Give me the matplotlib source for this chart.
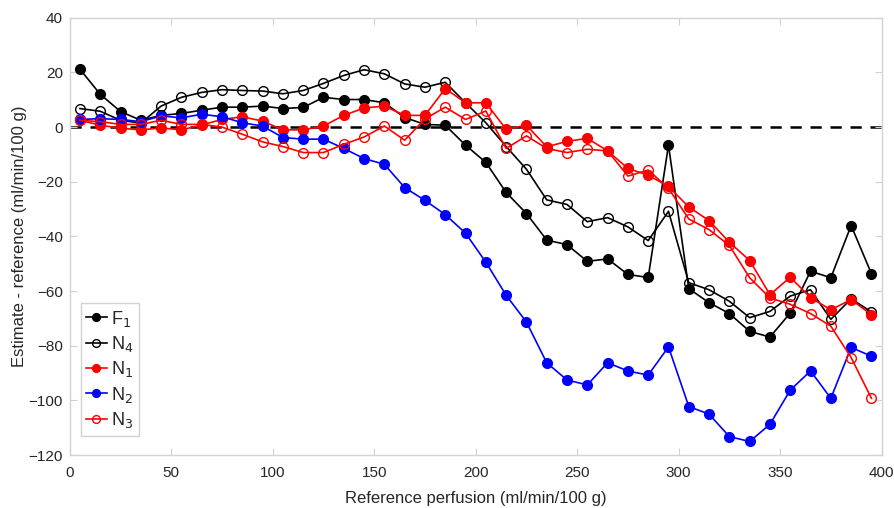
import numpy as np
import matplotlib
matplotlib.use("Agg")
import matplotlib.pyplot as plt

plt.rcParams['font.family'] = ['Liberation Sans', 'DejaVu Sans']

x = list(range(5, 400, 10))

F1 = [21.2, 12.0, 5.7, 2.5, 4.3, 5.0, 6.2, 7.3, 7.3, 7.7, 6.8, 7.2, 10.9, 10.1,
      10.1, 8.9, 3.5, 1.0, 0.7, -6.6, -12.9, -23.9, -31.6, -41.3, -43.0, -49.1,
      -48.2, -53.9, -55.0, -6.6, -59.1, -64.2, -68.2, -74.7, -76.8, -68.0,
      -52.7, -55.1, -36.0, -53.6]
N4 = [6.8, 5.8, 2.5, 1.5, 7.7, 10.9, 12.7, 13.7, 13.4, 13.2, 12.2, 13.4, 16.0,
      18.9, 21.0, 19.5, 15.8, 14.6, 16.4, 8.9, 1.6, -7.1, -15.4, -26.6, -28.3,
      -34.6, -33.1, -36.5, -41.5, -30.8, -56.9, -59.5, -63.7, -69.7, -67.4,
      -61.8, -59.5, -70.3, -62.8, -67.6]
N1 = [2.5, 0.7, -0.4, -1.0, -0.3, -1.0, 0.8, 2.8, 3.8, 2.2, -1.0, -1.0, 0.4,
      4.3, 7.0, 7.7, 4.3, 4.3, 14.1, 8.9, 8.9, -0.8, 0.7, -7.2, -5.2, -4.1,
      -8.7, -15.1, -17.6, -21.7, -29.2, -34.2, -42.1, -48.8, -61.3, -54.9,
      -62.4, -66.8, -63.1, -68.6]
N2 = [2.8, 3.1, 2.8, 2.0, 4.1, 3.4, 4.7, 3.8, 1.6, 0.4, -3.8, -4.4, -4.4, -7.8,
      -11.5, -13.6, -22.1, -26.8, -32.0, -38.8, -49.4, -61.5, -71.3, -86.2,
      -92.5, -94.3, -86.2, -89.2, -90.7, -80.4, -102.2, -105.0, -113.2,
      -115.0, -108.7, -96.2, -89.2, -99.2, -80.6, -83.8]
N3 = [2.5, 2.0, 1.0, 1.0, 2.5, 1.0, 1.0, 0.0, -2.6, -5.4, -7.1, -9.3, -9.3,
      -6.3, -3.6, 0.4, -4.8, 3.0, 7.3, 2.8, 5.9, -7.8, -3.2, -7.8, -9.3, -8.1,
      -8.7, -17.9, -15.7, -22.4, -33.6, -37.5, -43.3, -55.1, -62.5, -64.8,
      -68.2, -72.8, -84.3, -99.2]

labels = ['F$_1$', 'N$_4$', 'N$_1$', 'N$_2$', 'N$_3$']

fig = plt.figure(figsize=(8.95, 5.08), dpi=100)
ax = fig.add_axes([0.078, 0.104, 0.907, 0.861])

ax.axhline(0, color='black', lw=1.8, ls=(0, (4.5, 3.5)), zorder=1)

ms = 7
lw = 1.2
ax.plot(x, F1, '-o', color='black', mfc='black', mec='black', ms=ms, lw=lw, label=labels[0], zorder=3)
ax.plot(x, N4, '-o', color='black', mfc='none', mec='black', ms=ms, lw=lw, label=labels[1], zorder=3)
ax.plot(x, N1, '-o', color='#ff0000', mfc='#ff0000', mec='#ff0000', ms=ms, lw=lw, label=labels[2], zorder=3)
ax.plot(x, N2, '-o', color='#0000ff', mfc='#0000ff', mec='#0000ff', ms=ms, lw=lw, label=labels[3], zorder=3)
ax.plot(x, N3, '-o', color='#ff0000', mfc='none', mec='#ff0000', ms=ms, lw=lw, label=labels[4], zorder=3)

ax.set_xlim(0, 400)
ax.set_ylim(-120, 40)
ax.set_xticks(np.arange(0, 401, 50))
ax.set_yticks(np.arange(-120, 41, 20))

spine_c = '#d2d2d2'
for s in ax.spines.values():
    s.set_color(spine_c)
    s.set_linewidth(1.0)
ax.tick_params(direction='in', top=True, right=True, length=5, color=spine_c,
               labelsize=11, labelcolor='#262626')
ax.tick_params(axis='x', pad=8)
ax.tick_params(axis='y', pad=5)

ax.set_xlabel('Reference perfusion (ml/min/100 g)', fontsize=12, color='#262626', labelpad=8)
ax.set_ylabel('Estimate - reference (ml/min/100 g)', fontsize=12, color='#262626', labelpad=1)

leg = ax.legend(loc='lower left', bbox_to_anchor=(0.0, 0.02), fontsize=13,
                handlelength=1.15, handletextpad=0.25, borderpad=0.3,
                labelspacing=0.3, fancybox=False, framealpha=1,
                borderaxespad=0.6, markerscale=0.8)
leg.get_frame().set_edgecolor(spine_c)
leg.get_frame().set_linewidth(1.0)
for t in leg.get_texts():
    t.set_color('#262626')

fig.savefig('out.png', dpi=100)
